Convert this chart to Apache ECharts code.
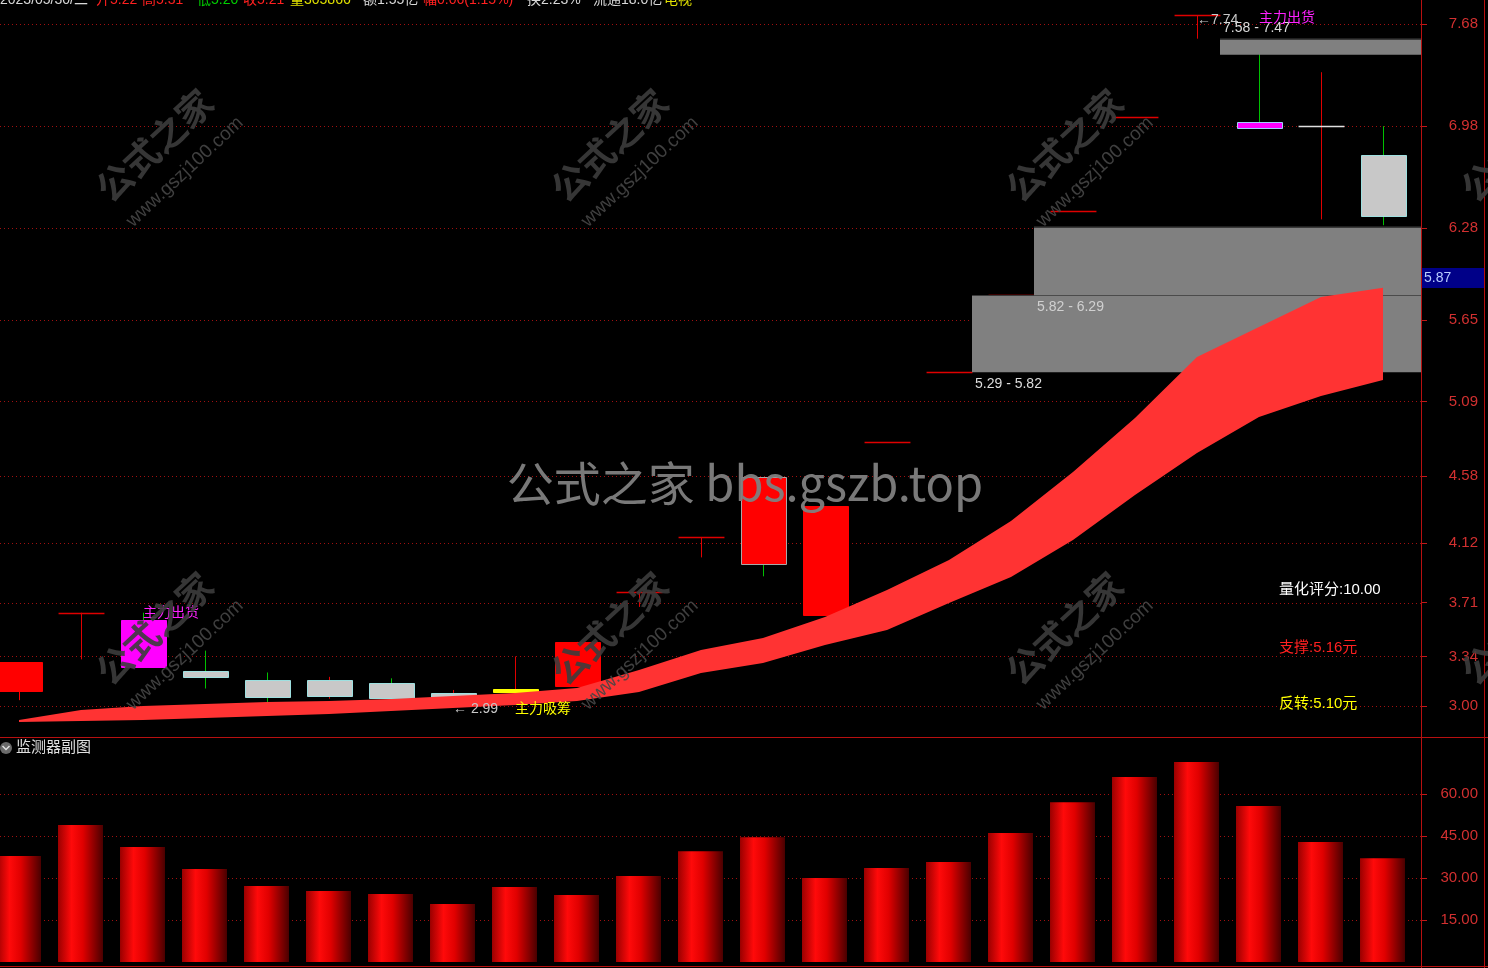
<!DOCTYPE html>
<html><head><meta charset="utf-8">
<script src="https://cdn.jsdelivr.net/npm/echarts@6/dist/echarts.min.js"></script>
<style>html,body{margin:0;padding:0;background:#000;overflow:hidden}#c{width:1488px;height:968px}</style>
</head><body><div id="c"></div>
<script>
// ---------------- data ----------------
const priceTicks = [3.00, 3.34, 3.71, 4.12, 4.58, 5.09, 5.65, 6.28, 6.98, 7.68];
const volTicks = [15, 30, 45, 60];
const open  = [3.30, 3.64, 3.59, 3.24, 3.18, 3.18, 3.16, 3.09, 3.12, 3.44, 3.78, 4.16, 4.57, 4.37, 4.81, 5.29, 5.82, 6.40, 7.04, 7.74, 7.01, 6.98, 6.78];
const close = [3.10, 3.64, 3.27, 3.20, 3.06, 3.07, 3.06, 3.01, 3.10, 3.14, 3.78, 4.16, 3.97, 3.62, 4.81, 5.29, 5.82, 6.40, 7.04, 7.74, 6.97, 6.98, 6.36];
const low   = [3.04, 3.32, 3.27, 3.12, 3.01, 3.05, 3.05, 2.99, 3.10, 3.14, 3.68, 4.02, 3.89, 3.62, 4.81, 5.29, 5.82, 6.40, 7.04, 7.58, 6.97, 6.34, 6.30];
const high  = [3.30, 3.64, 3.64, 3.38, 3.23, 3.20, 3.19, 3.11, 3.34, 3.44, 3.78, 4.16, 4.57, 4.37, 4.81, 5.29, 5.82, 6.40, 7.04, 7.74, 7.50, 7.35, 6.98];
const candleKind = ['redBox','redTee','outflow','grayG','grayG','grayR','grayG','grayR','inflow','redBox','redTee','redTee','redBoxEdge','redBox','redTee','redTee','redTee','redTee','redTee','redTee','outflowEdge','whiteTee','grayG'];
const bandTop    = [2.904, 2.973, 3.000, 3.014, 3.027, 3.034, 3.048, 3.069, 3.089, 3.124, 3.247, 3.384, 3.467, 3.611, 3.796, 4.002, 4.270, 4.606, 4.977, 5.395, 5.601, 5.807, 5.87];
const bandBottom = [2.890, 2.897, 2.904, 2.918, 2.931, 2.945, 2.966, 2.986, 3.007, 3.034, 3.096, 3.226, 3.295, 3.419, 3.522, 3.707, 3.885, 4.139, 4.448, 4.736, 4.983, 5.128, 5.237];
const volume = [37.9, 48.9, 41.1, 33.2, 27.1, 25.4, 24.3, 20.7, 26.8, 23.9, 30.7, 39.6, 44.6, 30.0, 33.6, 35.7, 46.1, 57.1, 66.1, 71.4, 55.7, 42.9, 37.1];
const zoneStart = [15, 16, 19];
const zoneLow   = [5.29, 5.82, 7.47];
const zoneHigh  = [5.82, 6.29, 7.58];
const zoneText  = ['5.29 - 5.82', '5.82 - 6.29', '7.58 - 7.47'];
const noteIndex = [2, 7, 8, 19, 20];
const noteValue = [3.64, 2.975, 2.975, 7.71, 7.72];
const noteText  = ['主力出货', '← 2.99', '主力吸筹', '←7.74', '主力出货'];
const noteKind  = ['out', 'price', 'in', 'price', 'out'];
const headerText = ['2023/05/30/二', '开5.22', '高5.31', '低5.20', '收5.21', '量305866', '额1.55亿', '幅0.06(1.15%)', '换2.23%', '流通18.0亿', '电视'];
const scoreText = ['量化评分:10.00', '支撑:5.16元', '反转:5.10元'];
const subTitle = '监测器副图';

// ---------------- styles / layout ----------------
const FONT = "'Liberation Sans','Noto Sans CJK SC',sans-serif";
const KIND = {
  redBox:     {fill:'#ff0000', stroke:null, wick:'#ff0000'},
  redBoxEdge: {fill:'#ff0000', stroke:'#a8a8a8', wick:'#00c000'},
  redTee:     {line:'#e00000', wick:'#e00000'},
  whiteTee:   {line:'#e0e0e0', wick:'#e00000'},
  outflow:    {fill:'#ff00ff', stroke:null, wick:'#00c000'},
  outflowEdge:{fill:'#ff00ff', stroke:'#a0d0ff', wick:'#00c000'},
  grayG:      {fill:'#c8c8c8', stroke:'#9ee0e0', wick:'#00c000'},
  grayR:      {fill:'#c8c8c8', stroke:'#9ee0e0', wick:'#e00000'},
  inflow:     {fill:'#ffff00', stroke:null, wick:'#e00000'}
};
const NOTE_COLOR = {out:'#ff20ff', price:'#c8c8c8', in:'#ffff00'};
const zoneLabelPos = ['below', 'below', 'above'];
const headerColor = ['#d8d8d8','#ff2020','#ff2020','#00d000','#ff2020','#e0e000','#d8d8d8','#ff2020','#d8d8d8','#d8d8d8','#e0e000'];
const headerX = [0, 96, 142, 197, 243, 290, 363, 423, 527, 593, 664];
const scoreColor = ['#ffffff', '#ff2020', '#ffff00'];
const scoreY = [590, 648, 704];
const XMIN = -0.3065, XMAX = 22.613;
const AXIS_RED = '#c01818';
const N = open.length;

const chart = echarts.init(document.getElementById('c'));

function gridLineSeries(xi, yi, ticks) {
  return {
    type:'custom', xAxisIndex:xi, yAxisIndex:yi, silent:true, z:1,
    data: ticks.map(v => [0, v]),
    renderItem: (p, api) => {
      const cs = p.coordSys;
      const y = Math.round(api.coord([0, api.value(1)])[1]) + 0.5;
      return {type:'line', shape:{x1:cs.x, y1:y, x2:cs.x + cs.width, y2:y},
              style:{stroke:'#a01010', lineWidth:1, lineDash:[1,3]}};
    }
  };
}

const candleSeries = {
  type:'custom', xAxisIndex:0, yAxisIndex:0, z:2,
  data: open.map((o, i) => [i, o, close[i], low[i], high[i]]),
  renderItem: (p, api) => {
    const i = api.value(0), o = api.value(1), c = api.value(2), l = api.value(3), h = api.value(4);
    const k = KIND[candleKind[i]];
    const w = api.size([1, 0])[0] * 0.74;
    const ph = api.coord([i, h]), pl = api.coord([i, l]), po = api.coord([i, o]), pc = api.coord([i, c]);
    const x = Math.round(ph[0]) + 0.5;
    const ch = [];
    if (pl[1] - ph[1] > 0.5) ch.push({type:'line', shape:{x1:x, y1:ph[1], x2:x, y2:pl[1]}, style:{stroke:k.wick, lineWidth:1}});
    const yT = Math.min(po[1], pc[1]), yB = Math.max(po[1], pc[1]);
    if (k.line) {
      const y = Math.round(yT) + 0.5;
      ch.push({type:'line', shape:{x1:x - w/2, y1:y, x2:x + w/2, y2:y}, style:{stroke:k.line, lineWidth:1.5}});
    } else {
      ch.push({type:'rect', shape:{x:Math.round(x - w/2) + 0.5, y:Math.round(yT) + 0.5, width:Math.round(w) - 1, height:Math.max(Math.round(yB - yT), 3)},
               style:{fill:k.fill, stroke:k.stroke || k.fill, lineWidth:1}});
    }
    return {type:'group', children:ch};
  }
};

const zoneSeries = {
  type:'custom', xAxisIndex:0, yAxisIndex:0, z:3,
  data: zoneStart.map((s, j) => [s, zoneLow[j], zoneHigh[j]]),
  renderItem: (p, api) => {
    const j = p.dataIndex, s = api.value(0), lo = api.value(1), hi = api.value(2);
    const cs = p.coordSys;
    const w = api.size([1, 0])[0] * 0.74;
    const pHi = api.coord([s, hi]), pLo = api.coord([s, lo]);
    const x0 = Math.round(pHi[0] + w/2);
    const above = zoneLabelPos[j] === 'above';
    return {type:'group', children:[
      {type:'rect', shape:{x:x0, y:pHi[1], width:cs.x + cs.width - x0, height:pLo[1] - pHi[1]}, style:{fill:'#808080'}},
      {type:'line', shape:{x1:x0, y1:Math.round(pHi[1]) + 0.5, x2:cs.x + cs.width, y2:Math.round(pHi[1]) + 0.5}, style:{stroke:'#3a3a3a', lineWidth:1}},
      {type:'text', style:{text:zoneText[j], x:x0 + 3, y: above ? pHi[1] - 11 : pLo[1] + 12,
        align:'left', textAlign:'left', verticalAlign:'middle', textVerticalAlign:'middle',
        fill: above || j === 0 ? '#dcdcdc' : '#d0d0d0', font:'14px ' + FONT}}
    ]};
  }
};

const ribbonSeries = {
  type:'custom', xAxisIndex:0, yAxisIndex:0, z:4,
  data: [[0, bandTop[0]]],
  renderItem: (p, api) => {
    const pts = [];
    for (let i = 0; i < N; i++) pts.push(api.coord([i, bandTop[i]]));
    for (let i = N - 1; i >= 0; i--) pts.push(api.coord([i, bandBottom[i]]));
    return {type:'polygon', shape:{points:pts}, style:{fill:'#ff3333'}};
  }
};

const lastLabelSeries = {
  type:'custom', xAxisIndex:0, yAxisIndex:0, z:6,
  data: [[N - 1, bandTop[N - 1]]],
  renderItem: (p, api) => {
    const pt = api.coord([api.value(0), api.value(1)]);
    const cs = p.coordSys;
    const x = cs.x + cs.width + 1;
    return {type:'group', children:[
      {type:'rect', shape:{x:x, y:Math.round(pt[1]) - 20, width:62, height:20}, style:{fill:'#000088'}},
      {type:'text', style:{text:api.value(1).toFixed(2), x:x + 2, y:Math.round(pt[1]) - 10,
        align:'left', textAlign:'left', verticalAlign:'middle', textVerticalAlign:'middle', fill:'#b8ccff', font:'14px ' + FONT}}
    ]};
  }
};

const noteSeries = {
  type:'custom', xAxisIndex:0, yAxisIndex:0, z:5,
  data: noteIndex.map((i, j) => [i, noteValue[j]]),
  renderItem: (p, api) => {
    const j = p.dataIndex;
    const pt = api.coord([api.value(0), api.value(1)]);
    return {type:'text', style:{text:noteText[j], x:pt[0], y:pt[1],
      align:'left', textAlign:'left', verticalAlign:'middle', textVerticalAlign:'middle',
      fill:NOTE_COLOR[noteKind[j]], font:'14px ' + FONT}};
  }
};

const volumeSeries = {
  type:'custom', xAxisIndex:1, yAxisIndex:1, z:2,
  data: volume.map((v, i) => [i, v]),
  renderItem: (p, api) => {
    const i = api.value(0);
    const top = api.coord([i, api.value(1)]), base = api.coord([i, 0]);
    const w = api.size([1, 0])[0] * 0.73;
    return {type:'rect', shape:{x:Math.round(top[0] - w/2), y:top[1], width:Math.round(w), height:base[1] - top[1]},
      style:{fill:new echarts.graphic.LinearGradient(0, 0, 1, 0, [
        {offset:0, color:'#9a0000'}, {offset:0.3, color:'#ff0a0a'}, {offset:0.55, color:'#e00000'}, {offset:1, color:'#4a0000'}])}};
  }
};

function yAxisCfg(gi, min, max, ticks) {
  return {
    type:'value', gridIndex:gi, position:'right', min:min, max:max,
    axisLine:{show:true, onZero:false, lineStyle:{color:AXIS_RED}},
    axisTick:{show:true, customValues:ticks, length:6, lineStyle:{color:AXIS_RED}},
    axisLabel:{customValues:ticks, color:'#d23030', fontSize:15, margin:57, align:'right', fontFamily:FONT, formatter:v => v.toFixed(2)},
    splitLine:{show:false}
  };
}

// graphic elements
const graphics = [];
headerText.forEach((t, j) => graphics.push({type:'text', x:headerX[j], y:0, z:100,
  style:{text:t, fill:headerColor[j], font:'14px ' + FONT, align:'left', textAlign:'left', verticalAlign:'middle', textVerticalAlign:'middle'}}));
scoreText.forEach((t, j) => graphics.push({type:'text', x:1279, y:scoreY[j], z:100,
  style:{text:t, fill:scoreColor[j], font:'15px ' + FONT, align:'left', textAlign:'left', verticalAlign:'middle', textVerticalAlign:'middle'}}));
graphics.push({type:'circle', shape:{cx:6, cy:748, r:6}, style:{fill:'#6a6a6a'}, z:100});
graphics.push({type:'polyline', shape:{points:[[2.5,746],[6,749.5],[9.5,746]]}, style:{stroke:'#e0e0e0', lineWidth:1.5, fill:null}, z:101});
graphics.push({type:'text', x:16, y:748, z:100,
  style:{text:subTitle, fill:'#e0e0e0', font:'15px ' + FONT, align:'left', textAlign:'left', verticalAlign:'middle', textVerticalAlign:'middle'}});
// watermarks
for (let r = 0; r < 2; r++) for (let k = 0; k < 4; k++) {
  graphics.push({type:'text', x:157 + 455*k, y:148 + 483*r, rotation:0.75, z:90,
    style:{text:'公式之家', fill:'rgba(60,60,60,0.9)', font:'bold 36px ' + FONT, align:'center', textAlign:'center', verticalAlign:'middle', textVerticalAlign:'middle'}});
  graphics.push({type:'text', x:185 + 455*k, y:172 + 483*r, rotation:0.75, z:90,
    style:{text:'www.gszj100.com', fill:'rgba(70,70,70,0.9)', font:'19px ' + FONT, align:'center', textAlign:'center', verticalAlign:'middle', textVerticalAlign:'middle'}});
}
graphics.push({type:'text', x:745, y:483, z:91,
  style:{text:'公式之家 bbs.gszb.top', fill:'rgba(128,128,128,0.95)', font:"47px 'Noto Sans CJK SC', sans-serif", align:'center', textAlign:'center', verticalAlign:'middle', textVerticalAlign:'middle'}});
// frame lines
[[1421.5,0,1421.5,968],[1484.5,0,1484.5,968],[0,737.5,1488,737.5],[0,966.5,1488,966.5]].forEach(l =>
  graphics.push({type:'line', shape:{x1:l[0], y1:l[1], x2:l[2], y2:l[3]}, style:{stroke:'#b81010', lineWidth:1}, z:80}));

chart.setOption({
  backgroundColor:'#000',
  animation:false,
  grid:[{left:0, top:0, width:1421, height:737}, {left:0, top:740, width:1421, height:222}],
  xAxis:[{type:'value', gridIndex:0, min:XMIN, max:XMAX, show:false},
         {type:'value', gridIndex:1, min:XMIN, max:XMAX, show:false}],
  yAxis:[yAxisCfg(0, 2.7872, 7.8456, priceTicks), yAxisCfg(1, 0, 79.29, volTicks)],
  series:[gridLineSeries(0, 0, priceTicks), gridLineSeries(1, 1, volTicks), candleSeries, zoneSeries, ribbonSeries, lastLabelSeries, noteSeries, volumeSeries],
  graphic:graphics
});
</script></body></html>
